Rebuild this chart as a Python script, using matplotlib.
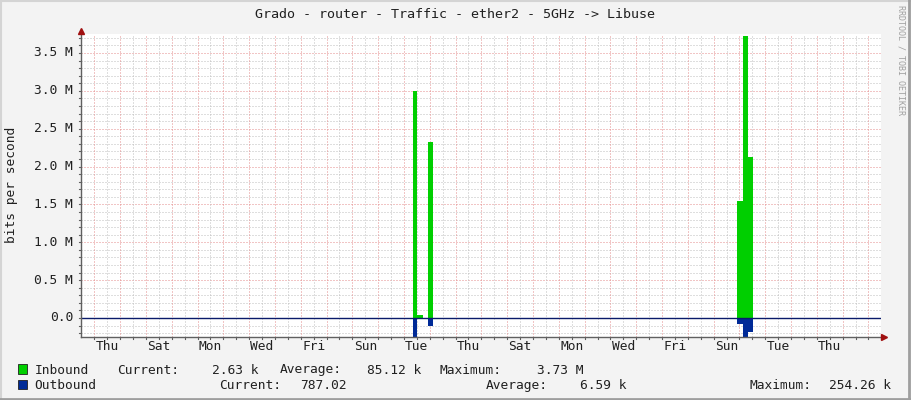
import numpy as np
import matplotlib
matplotlib.use("Agg")
import matplotlib.pyplot as plt
from matplotlib.lines import Line2D
from matplotlib.transforms import blended_transform_factory

# data (x in days from left edge of graph, values in Mbit/s)
t_days = [0, 12.85, 13.02, 13.25, 13.45, 13.65, 25.43, 25.64, 25.86, 26.03, 31]
inbound = [0, 3.00, 0.045, 0, 2.33, 0, 1.55, 3.73, 2.13, 0, 0]
outbound = [0, 0.254, 0, 0, 0.11, 0, 0.077, 0.254, 0.19, 0, 0]

day_labels = ["Thu", "Sat", "Mon", "Wed", "Fri", "Sun", "Tue", "Thu",
              "Sat", "Mon", "Wed", "Fri", "Sun", "Tue", "Thu"]
first_midnight = 0.515
y_ticks = [0.0, 0.5, 1.0, 1.5, 2.0, 2.5, 3.0, 3.5]

title = "Grado - router - Traffic - ether2 - 5GHz -> Libuse"

W, H = 911, 400
FONT = "DejaVu Sans Mono"
FS = 9.3
TXT = "#202020"

fig = plt.figure(figsize=(W / 100, H / 100), dpi=100, facecolor="#F3F3F3")

# plot area in pixels
left, right, top, bottom = 81, 881, 34, 336.5
ax = fig.add_axes([left / W, (H - bottom) / H, (right - left) / W, (bottom - top) / H])
ax.set_facecolor("white")
for s in ax.spines.values():
    s.set_visible(False)
ax.set_xticks([])
ax.set_yticks([])

xmin, xmax = 0, 31.0
ymin, ymax = -0.245, 3.75
ax.set_xlim(xmin, xmax)
ax.set_ylim(ymin, ymax)

grid_gray = "#BEBEBE"
grid_red = "#E48C8C"
dots = (0, (1, 2))

# horizontal grid
for v in np.arange(-0.2, 3.75, 0.1):
    v = round(v, 1)
    major = abs(v / 0.5 - round(v / 0.5)) < 1e-6
    ax.axhline(v, color=grid_red if major else grid_gray, lw=0.72,
               ls=dots, zorder=1)
# vertical grid: red at midnight, gray at noon
n_days = 31
for k in range(n_days + 1):
    xm = first_midnight + k
    if xm < xmax:
        ax.axvline(xm, color=grid_red, lw=0.72, ls=dots, zorder=1)
    xn = first_midnight - 0.5 + k
    if 0 < xn < xmax:
        ax.axvline(xn, color=grid_gray, lw=0.72, ls=dots, zorder=1)

# traffic areas
t = np.array(t_days)
ax.fill_between(t, 0, inbound, step="post", color="#00CF00", lw=0, zorder=3)
ax.fill_between(t, 0, -np.array(outbound), step="post", color="#002A97", lw=0, zorder=3)

# zero line
ax.axhline(0, color="#0A1A6A", lw=1.0, zorder=4)

# axes lines + arrows
axis_col = "#606060"
ax.plot([0, 0], [ymin, ymax], color=axis_col, lw=1.0, clip_on=False, zorder=5)
ax.plot([0, xmax + 0.1], [ymin, ymin], color=axis_col, lw=1.0, clip_on=False, zorder=5)
ax.plot([0], [1.01], transform=ax.transAxes, marker="^", ms=5, color="#A01010",
        clip_on=False, zorder=6)
ax.plot([1.004], [0], transform=ax.transAxes, marker=">", ms=5, color="#A01010",
        clip_on=False, zorder=6)

# small tick marks
tick_len = 2.5 / (bottom - top) * (ymax - ymin)
for k in range(n_days):
    for xx in (first_midnight + k, first_midnight + 0.5 + k):
        if xx < xmax:
            ax.plot([xx, xx], [ymin, ymin - tick_len], color=axis_col, lw=0.8,
                    clip_on=False, zorder=5)
tick_len_x = 2.5 / (right - left) * (xmax - xmin)
for v in np.arange(-0.2, 3.75, 0.1):
    ax.plot([0, -tick_len_x], [v, v], color=axis_col, lw=0.8, clip_on=False, zorder=5)

# x labels (at noon, every second day)
tx = blended_transform_factory(ax.transData, fig.transFigure)
for i, lab in enumerate(day_labels):
    xpos = first_midnight + 0.5 + 2 * i
    ax.text(xpos, (H - 350.5) / H, lab, transform=tx, ha="center", va="baseline",
            family=FONT, fontsize=FS, color=TXT)

# y labels
ty = blended_transform_factory(fig.transFigure, ax.transData)
for v in y_ticks:
    lab = "0.0" if v == 0 else "%.1f M" % v
    ax.text(73 / W, v, lab, transform=ty, ha="right", va="center",
            family=FONT, fontsize=FS, color=TXT)

fig.text(12 / W, (H - 185) / H, "bits per second", rotation=90, ha="center",
         va="center", family=FONT, fontsize=FS, color=TXT)
fig.text(455 / W, (H - 18.5) / H, title, ha="center", va="baseline",
         family=FONT, fontsize=9.6, color=TXT)
fig.text(901 / W, (H - 5) / H, "RRDTOOL / TOBI OETIKER", rotation=270,
         ha="center", va="top", family=FONT, fontsize=6.0, color="#A0A0A0")

# legend
def px(x, y):
    return x / W, (H - y) / H

fig.patches.append(plt.Rectangle(px(17.5, 373.5), 9.5 / W, 9.5 / H, transform=fig.transFigure,
                                 facecolor="#00CF00", edgecolor="#202020", lw=0.6))
fig.patches.append(plt.Rectangle(px(17.5, 389), 9.5 / W, 9.5 / H, transform=fig.transFigure,
                                 facecolor="#002A97", edgecolor="#202020", lw=0.6))

row1 = [(34.7, "Inbound"), (116.7, "Current:"), (212.0, "2.63 k"), (279.3, "Average:"),
        (366.7, "85.12 k"), (439.3, "Maximum:"), (536.7, "3.73 M")]
row2 = [(34.7, "Outbound"), (219.3, "Current:"), (300.0, "787.02"), (485.7, "Average:"),
        (580.0, "6.59 k"), (750.0, "Maximum:"), (829.3, "254.26 k")]
for xx, s in row1:
    fig.text(*px(xx, 373.5), s, ha="left", va="baseline", family=FONT, fontsize=FS, color=TXT)
for xx, s in row2:
    fig.text(*px(xx, 389), s, ha="left", va="baseline", family=FONT, fontsize=FS, color=TXT)

# image frame
fig.add_artist(Line2D([0, 1], [1 - 1 / H, 1 - 1 / H], transform=fig.transFigure, color="#D4D4D4", lw=1.5))
fig.add_artist(Line2D([1 / W, 1 / W], [0, 1], transform=fig.transFigure, color="#D4D4D4", lw=1.5))
fig.add_artist(Line2D([0, 1], [1.5 / H, 1.5 / H], transform=fig.transFigure, color="#9E9E9E", lw=2))
fig.add_artist(Line2D([1 - 2 / W, 1 - 2 / W], [0, 1], transform=fig.transFigure, color="#9E9E9E", lw=2))

fig.savefig("out.png", dpi=100, facecolor=fig.get_facecolor())
